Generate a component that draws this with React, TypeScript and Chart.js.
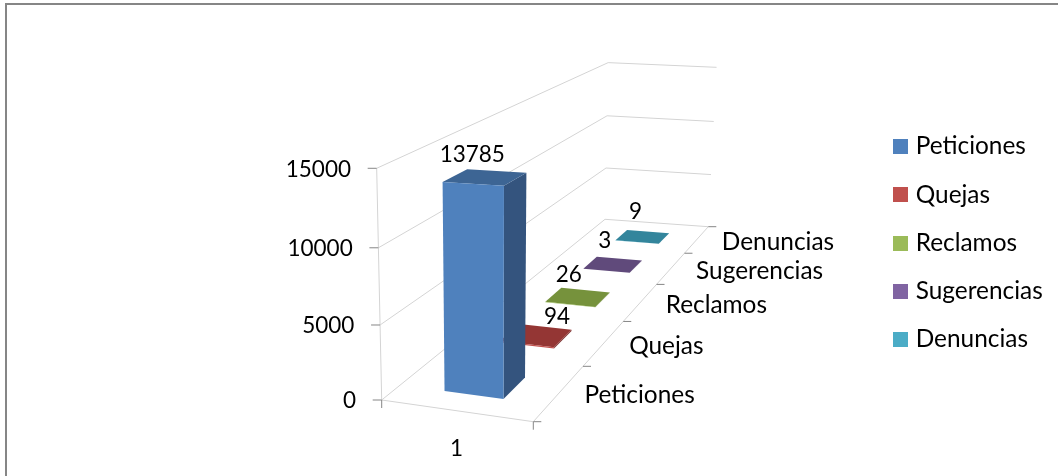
import React, { useEffect, useRef } from "react";
import { Chart, registerables, LinearScale, CategoryScale } from "chart.js";

const seriesNames = ["Peticiones", "Quejas", "Reclamos", "Sugerencias", "Denuncias"];
const peticiones = [13785];
const quejas = [94];
const reclamos = [26];
const sugerencias = [3];
const denuncias = [9];
const categories = ["1"];
const yTickStep = 5000;
const yMax = 15000;

const FONT = "Lato";
const NUM_SIZE = 22.5;
const WORD_SIZE = 24.4;
const frontColors = ["#4F81BD", "#C0504D", "#9BBB59", "#8064A2", "#4BACC6"];
const topColors = ["#3D6594", "#943634", "#76923C", "#604A7B", "#33859C"];
const sideColors = ["#34547E", "#7A2E2C", "#62793A", "#4F3D66", "#2B7083"];
const labelOffsets = [[-12.7, -21], [21, -17.5], [-9, -21], [-8, -22], [-7, -23.6]];

// Camera calibration: screen corners of the floor of the 3D box
const A = [381.7, 400];
const B = [533.3, 421.7];
const C = [708.3, 226.7];
const D = [605, 219.3];
const det = (a: number, b: number, c: number, d: number) => a * d - b * c;
const sx = A[0] - B[0] + C[0] - D[0];
const sy = A[1] - B[1] + C[1] - D[1];
const dx1 = B[0] - C[0];
const dy1 = B[1] - C[1];
const dx2 = D[0] - C[0];
const dy2 = D[1] - C[1];
const den = det(dx1, dx2, dy1, dy2);
const g = det(sx, dx2, sy, dy2) / den;
const h = det(dx1, sx, dy1, sy) / den;
const a1 = B[0] * (1 + g) - A[0];
const a2 = D[0] * (1 + h) - A[0];
const b1 = B[1] * (1 + g) - A[1];
const b2 = D[1] * (1 + h) - A[1];
const zw = -0.0427;
const a3 = -21.1;
const b3 = -238.9;

function project(u: number, d: number, z: number): [number, number] {
  const w = 1 + g * u + h * d + zw * z;
  const x = (A[0] + a1 * u + a2 * d + a3 * z) / w + 2 * u * d * z;
  const y = (A[1] + b1 * u + b2 * d + b3 * z) / w - (5 - 2.5 * u) * d * z;
  return [x, y];
}

function zOf(scale: any, v: number) {
  const p0 = scale.getPixelForValue(0);
  return (p0 - scale.getPixelForValue(v)) / (p0 - scale.getPixelForValue(scale.max));
}

class TiltedValueScale extends LinearScale {
  static id = "tiltedValue";
  static defaults = LinearScale.defaults;
  _computeLabelItems(area: any) {
    const items = (super._computeLabelItems as any)(area);
    items.forEach((it: any, i: number) => {
      const [x, y] = project(0, 0, zOf(this, (this as any).ticks[i].value));
      it.options.translation = [x - 25.7, y + 1];
      it.options.textAlign = "right";
    });
    return items;
  }
}

class DepthScale extends CategoryScale {
  static id = "depth";
  static defaults = CategoryScale.defaults;
  _computeLabelItems(area: any) {
    const items = (super._computeLabelItems as any)(area);
    items.forEach((it: any, i: number) => {
      const [x, y] = project(1, (i + 0.5) / seriesNames.length, 0);
      it.options.translation = [x + 25, y + 3];
      it.options.textAlign = "left";
    });
    return items;
  }
}

Chart.register(...registerables, TiltedValueScale, DepthScale);

function poly(ctx: CanvasRenderingContext2D, pts: number[][], fill: string) {
  ctx.beginPath();
  pts.forEach((p, i) => (i ? ctx.lineTo(p[0], p[1]) : ctx.moveTo(p[0], p[1])));
  ctx.closePath();
  ctx.fillStyle = fill;
  ctx.fill();
}

function seg(ctx: CanvasRenderingContext2D, p: number[], q: number[]) {
  ctx.beginPath();
  ctx.moveTo(p[0], p[1]);
  ctx.lineTo(q[0], q[1]);
  ctx.stroke();
}

const box3d = {
  id: "box3d",
  beforeDraw(chart: any) {
    const ctx = chart.ctx;
    ctx.save();
    ctx.strokeStyle = "#868686";
    ctx.lineWidth = 2;
    ctx.beginPath();
    ctx.moveTo(6, 476);
    ctx.lineTo(6, 4);
    ctx.lineTo(1058, 4);
    ctx.stroke();
    ctx.restore();
  },
  afterLayout(chart: any) {
    const l = chart.legend;
    const w = l.right - l.left;
    l.left = 873.6;
    l.right = 873.6 + w;
  },
  beforeDatasetsDraw(chart: any) {
    const ctx: CanvasRenderingContext2D = chart.ctx;
    const y = chart.scales.y;
    const n = chart.data.datasets.length;
    ctx.save();
    ctx.lineWidth = 1;
    ctx.strokeStyle = "#D4D4D4";
    const ticks = y.ticks.map((t: any) => zOf(y, t.value));
    seg(ctx, project(0, 0, 0), project(0, 0, 1));
    ticks.forEach((z: number) => {
      seg(ctx, project(0, 0, z), project(0, 1, z));
      seg(ctx, project(0, 1, z), project(1, 1, z));
    });
    seg(ctx, project(0, 0, 0), project(1, 0, 0));
    seg(ctx, project(1, 0, 0), project(1, 1, 0));

    ctx.strokeStyle = "#868686";
    ticks.forEach((z: number) => {
      const p = project(0, 0, z);
      seg(ctx, [p[0] - 9, p[1]], p);
    });
    const a = project(0, 0, 0);
    seg(ctx, a, [a[0], a[1] + 8]);
    const b = project(1, 0, 0);
    seg(ctx, b, [b[0], b[1] + 8]);
    for (let i = 0; i <= n; i++) {
      const p = project(1, i / n, 0);
      seg(ctx, p, [p[0] + 8, p[1]]);
    }

    for (let i = n - 1; i >= 0; i--) {
      const v = chart.data.datasets[i].data[0];
      const z = zOf(y, v);
      const u0 = 0.3, u1 = 0.7;
      const d0 = (i + 0.3) / n, d1 = (i + 0.7) / n;
      const P = (u: number, d: number, zz: number) => {
        const p = project(u, d, zz);
        return [p[0], p[1] + 1.5];
      };
      poly(ctx, [P(u1, d0, 0), P(u1, d1, 0), P(u1, d1, z), P(u1, d0, z)], sideColors[i]);
      poly(ctx, [P(u0, d0, z), P(u1, d0, z), P(u1, d1, z), P(u0, d1, z)], topColors[i]);
      poly(ctx, [P(u0, d0, 0), P(u1, d0, 0), P(u1, d0, z), P(u0, d0, z)], frontColors[i]);
    }

    ctx.fillStyle = "#000";
    ctx.font = `${NUM_SIZE}px ${FONT}`;
    ctx.textAlign = "center";
    ctx.textBaseline = "middle";
    for (let i = 0; i < n; i++) {
      const v = chart.data.datasets[i].data[0];
      const c = project(0.5, (i + 0.5) / n, zOf(y, v));
      ctx.fillText(String(v), c[0] + labelOffsets[i][0], c[1] + labelOffsets[i][1]);
    }
    ctx.restore();
    return false;
  },
};

function swatch(color: string) {
  const c = document.createElement("canvas");
  c.width = 15;
  c.height = 15;
  const x = c.getContext("2d")!;
  x.fillStyle = color;
  x.fillRect(0, 0, 15, 15);
  return c;
}

export default function App() {
  const ref = useRef<HTMLCanvasElement>(null);
  useEffect(() => {
    const seriesValues = [peticiones, quejas, reclamos, sugerencias, denuncias];
    const numFont = { family: FONT, size: NUM_SIZE };
    const wordFont = { family: FONT, size: WORD_SIZE };
    const chart = new Chart(ref.current!, {
      type: "bar",
      data: {
        labels: categories,
        datasets: seriesNames.map((name, i) => ({
          label: name,
          data: seriesValues[i],
          backgroundColor: frontColors[i],
          borderWidth: 0,
        })),
      },
      plugins: [box3d as any],
      options: {
        responsive: false,
        animation: false,
        layout: { padding: { top: 10, right: 0, bottom: 0, left: 0 } },
        plugins: {
          tooltip: { enabled: false },
          legend: {
            position: "right",
            labels: {
              font: wordFont,
              color: "#000",
              padding: 23.9,
              usePointStyle: true,
              pointStyleWidth: 6,
              generateLabels(c: any) {
                const base = Chart.defaults.plugins.legend.labels.generateLabels(c);
                return base.map((it: any, i: number) => ({ ...it, pointStyle: swatch(frontColors[i]) }));
              },
            },
          },
        },
        scales: {
          x: {
            position: "bottom",
            grid: { display: false },
            border: { display: false },
            ticks: { font: numFont, color: "#000", padding: 27 },
            afterFit: (s: any) => { s.height = 76; },
          },
          topGap: {
            type: "linear",
            axis: "x",
            position: "top",
            grid: { display: false },
            border: { display: false },
            ticks: { display: false },
            afterFit: (s: any) => { s.height = 158; },
          },
          y: {
            type: "tiltedValue",
            position: "left",
            min: 0,
            max: yMax,
            grid: { display: false, drawTicks: false },
            border: { display: false },
            ticks: { font: numFont, color: "#000", stepSize: yTickStep, padding: 0, callback: (v: any) => String(v) },
            afterFit: (s: any) => { s.width = 380; },
          },
          depth: {
            type: "depth",
            axis: "y",
            position: "right",
            labels: seriesNames,
            grid: { display: false, drawTicks: false },
            border: { display: false },
            ticks: { font: wordFont, color: "#000", autoSkip: false, padding: 0 },
            afterFit: (s: any) => { s.width = 348.4; },
          },
        },
      } as any,
    });
    return () => chart.destroy();
  }, []);
  return (
    <div style={{ position: "absolute", left: 0, top: 0, width: 1058, height: 476, background: "#fff" }}>
      <canvas ref={ref} width={1058} height={476} style={{ display: "block" }} />
    </div>
  );
}
